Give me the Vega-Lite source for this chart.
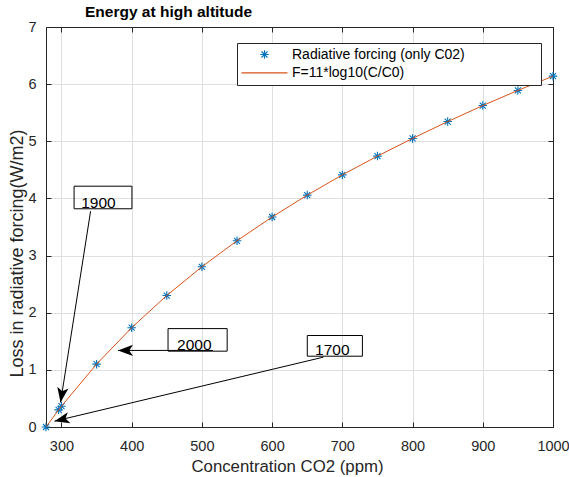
{
  "$schema": "https://vega.github.io/schema/vega-lite/v6.json",
  "width": 507,
  "height": 400,
  "autosize": {"type": "none"},
  "padding": {"left": 46, "top": 27, "right": 16, "bottom": 50},
  "background": "white",
  "config": {
    "font": "Liberation Sans",
    "view": {"stroke": null},
    "axis": {"labelFlush": false, "labelOverlap": false}
  },
  "title": {
    "text": "Energy at high altitude",
    "anchor": "start",
    "frame": "group",
    "dx": 39,
    "dy": -1.5,
    "offset": -2.5,
    "fontSize": 15.5,
    "fontWeight": "bold",
    "color": "#000000"
  },
  "datasets": {
    "forcing": [
      {"C": 278, "F": 0.0, "series": "Radiative forcing (only C02)"},
      {"C": 296, "F": 0.300, "series": "Radiative forcing (only C02)"},
      {"C": 300, "F": 0.364, "series": "Radiative forcing (only C02)"},
      {"C": 350, "F": 1.100, "series": "Radiative forcing (only C02)"},
      {"C": 400, "F": 1.738, "series": "Radiative forcing (only C02)"},
      {"C": 450, "F": 2.301, "series": "Radiative forcing (only C02)"},
      {"C": 500, "F": 2.804, "series": "Radiative forcing (only C02)"},
      {"C": 550, "F": 3.259, "series": "Radiative forcing (only C02)"},
      {"C": 600, "F": 3.675, "series": "Radiative forcing (only C02)"},
      {"C": 650, "F": 4.058, "series": "Radiative forcing (only C02)"},
      {"C": 700, "F": 4.412, "series": "Radiative forcing (only C02)"},
      {"C": 750, "F": 4.741, "series": "Radiative forcing (only C02)"},
      {"C": 800, "F": 5.050, "series": "Radiative forcing (only C02)"},
      {"C": 850, "F": 5.345, "series": "Radiative forcing (only C02)"},
      {"C": 900, "F": 5.625, "series": "Radiative forcing (only C02)"},
      {"C": 950, "F": 5.890, "series": "Radiative forcing (only C02)"},
      {"C": 1000, "F": 6.140, "series": "Radiative forcing (only C02)"},
      {"C": 278, "F": 0.0, "series": "F=11*log10(C/C0)"},
      {"C": 296, "F": 0.300, "series": "F=11*log10(C/C0)"},
      {"C": 300, "F": 0.364, "series": "F=11*log10(C/C0)"},
      {"C": 350, "F": 1.100, "series": "F=11*log10(C/C0)"},
      {"C": 400, "F": 1.738, "series": "F=11*log10(C/C0)"},
      {"C": 450, "F": 2.301, "series": "F=11*log10(C/C0)"},
      {"C": 500, "F": 2.804, "series": "F=11*log10(C/C0)"},
      {"C": 550, "F": 3.259, "series": "F=11*log10(C/C0)"},
      {"C": 600, "F": 3.675, "series": "F=11*log10(C/C0)"},
      {"C": 650, "F": 4.058, "series": "F=11*log10(C/C0)"},
      {"C": 700, "F": 4.412, "series": "F=11*log10(C/C0)"},
      {"C": 750, "F": 4.741, "series": "F=11*log10(C/C0)"},
      {"C": 800, "F": 5.050, "series": "F=11*log10(C/C0)"},
      {"C": 850, "F": 5.345, "series": "F=11*log10(C/C0)"},
      {"C": 900, "F": 5.625, "series": "F=11*log10(C/C0)"},
      {"C": 950, "F": 5.890, "series": "F=11*log10(C/C0)"},
      {"C": 1000, "F": 6.140, "series": "F=11*log10(C/C0)"}
    ],
    "notes": [
      {"year": "1900", "bx": 318.0, "bx2": 400.4, "by": 3.819, "by2": 4.214, "tx": 328.2, "ty": 3.841, "sx": 341.5, "sy": 3.777, "ex": 298.7, "ey": 0.429},
      {"year": "2000", "bx": 451.8, "bx2": 536.0, "by": 1.327, "by2": 1.722, "tx": 464.6, "ty": 1.339, "sx": 515.6, "sy": 1.34, "ex": 380.5, "ey": 1.34},
      {"year": "1700", "bx": 650.1, "bx2": 728.6, "by": 1.239, "by2": 1.601, "tx": 661.1, "ty": 1.257, "sx": 673.0, "sy": 1.222, "ex": 290.1, "ey": 0.102}
    ]
  },
  "layer": [
    {
      "data": {"name": "forcing"},
      "transform": [{"filter": "datum.series === 'Radiative forcing (only C02)'"}],
      "mark": {"type": "point", "filled": false, "size": 100, "strokeWidth": 1.1, "opacity": 1},
      "encoding": {
        "x": {"field": "C", "type": "quantitative",
          "scale": {"domain": [278, 1000], "nice": false, "zero": false},
          "axis": {"orient": "top", "values": [300, 400, 500, 600, 700, 800, 900, 1000], "labels": false, "grid": false, "title": null, "tickSize": -5, "tickColor": "#262626", "domainColor": "#262626", "tickWidth": 1, "domainWidth": 1}},
        "y": {"field": "F", "type": "quantitative",
          "scale": {"domain": [0, 7], "nice": false, "zero": false},
          "axis": {"orient": "right", "values": [0, 1, 2, 3, 4, 5, 6, 7], "labels": false, "grid": false, "title": null, "tickSize": -5, "tickColor": "#262626", "domainColor": "#262626", "tickWidth": 1, "domainWidth": 1}},
        "color": {"field": "series", "type": "nominal",
          "scale": {"domain": ["Radiative forcing (only C02)", "F=11*log10(C/C0)"], "range": ["#0072BD", "#D95319"]},
          "legend": {
            "title": "\u200b\u00a0\u00a0\u00a0\u00a0\u00a0\u00a0\u00a0\u00a0\u00a0\u00a0\u200b", "titleOrient": "right", "titlePadding": 32.8, "titleFontSize": 14, "titleOpacity": 0,
            "orient": "none", "legendX": 191, "legendY": 16,
            "fillColor": "white", "strokeColor": "#262626",
            "padding": 4.5, "rowPadding": 4.4, "symbolOffset": 16, "labelOffset": 20.5,
            "labelFontSize": 14, "labelColor": "#000000", "labelLimit": 500,
            "symbolSize": 100, "symbolStrokeWidth": 1.1
          }},
        "shape": {"field": "series", "type": "nominal",
          "scale": {"domain": ["Radiative forcing (only C02)", "F=11*log10(C/C0)"],
            "range": ["M-0.85,0L0.85,0M0,-0.85L0,0.85M-0.6,-0.6L0.6,0.6M-0.6,0.6L0.6,-0.6", "M-4.6,0L4.6,0"]},
          "legend": {
            "title": "\u200b\u00a0\u00a0\u00a0\u00a0\u00a0\u00a0\u00a0\u00a0\u00a0\u00a0\u200b", "titleOrient": "right", "titlePadding": 32.8, "titleFontSize": 14, "titleOpacity": 0,
            "orient": "none", "legendX": 191, "legendY": 16,
            "fillColor": "white", "strokeColor": "#262626",
            "padding": 4.5, "rowPadding": 4.4, "symbolOffset": 16, "labelOffset": 20.5,
            "labelFontSize": 14, "labelColor": "#000000", "labelLimit": 500,
            "symbolSize": 100, "symbolStrokeWidth": 1.1
          }}
      }
    },
    {
      "data": {"name": "forcing"},
      "transform": [{"filter": "datum.series === 'F=11*log10(C/C0)'"}],
      "mark": {"type": "line", "strokeWidth": 1},
      "encoding": {
        "x": {"field": "C", "type": "quantitative",
          "scale": {"domain": [278, 1000], "nice": false, "zero": false},
          "axis": {"orient": "bottom", "values": [300, 400, 500, 600, 700, 800, 900, 1000], "format": "d",
            "grid": true, "gridColor": "#dfdfdf", "gridWidth": 1,
            "tickSize": -5, "tickColor": "#262626", "tickWidth": 1, "domainColor": "#262626", "domainWidth": 1,
            "labelFontSize": 14.5, "labelColor": "#262626", "labelPadding": 28.5, "labelBaseline": "alphabetic",
            "title": "Concentration CO2 (ppm)", "titleFontSize": 16.8, "titleFontWeight": "normal", "titleColor": "#262626",
            "titleX": 241, "titleY": 44, "titleBaseline": "alphabetic", "titleAlign": "center"}},
        "y": {"field": "F", "type": "quantitative",
          "scale": {"domain": [0, 7], "nice": false, "zero": false},
          "axis": {"orient": "left", "values": [0, 1, 2, 3, 4, 5, 6, 7], "format": "d",
            "grid": true, "gridColor": "#dfdfdf", "gridWidth": 1,
            "tickSize": -5, "tickColor": "#262626", "tickWidth": 1, "domainColor": "#262626", "domainWidth": 1,
            "labelFontSize": 14.5, "labelColor": "#262626", "labelPadding": 15,
            "title": "Loss in radiative forcing(W/m2)", "titleFontSize": 18, "titleFontWeight": "normal", "titleColor": "#262626",
            "titleX": -24, "titleY": 226, "titleBaseline": "alphabetic", "titleAlign": "center", "titleAngle": 270}},
        "color": {"field": "series", "type": "nominal",
          "scale": {"domain": ["Radiative forcing (only C02)", "F=11*log10(C/C0)"], "range": ["#0072BD", "#D95319"]}}
      }
    },
    {
      "data": {"name": "notes"},
      "mark": {"type": "rect", "fillOpacity": 0, "stroke": "#000000", "strokeWidth": 1},
      "encoding": {
        "x": {"field": "bx", "type": "quantitative", "scale": {"domain": [278, 1000], "nice": false, "zero": false}, "axis": null},
        "x2": {"field": "bx2"},
        "y": {"field": "by", "type": "quantitative", "scale": {"domain": [0, 7], "nice": false, "zero": false}, "axis": null},
        "y2": {"field": "by2"}
      }
    },
    {
      "data": {"name": "notes"},
      "mark": {"type": "rule", "color": "#000000", "strokeWidth": 1},
      "encoding": {
        "x": {"field": "sx", "type": "quantitative", "scale": {"domain": [278, 1000], "nice": false, "zero": false}, "axis": null},
        "x2": {"field": "ex"},
        "y": {"field": "sy", "type": "quantitative", "scale": {"domain": [0, 7], "nice": false, "zero": false}, "axis": null},
        "y2": {"field": "ey"}
      }
    },
    {
      "data": {"name": "notes"},
      "transform": [{"filter": "datum.year === '1900'"}],
      "mark": {"type": "point", "filled": true, "color": "#000000", "opacity": 1, "size": 225, "angle": 98.9, "shape": "M0,0L-2,-0.75L-1.5,0L-2,0.75Z"},
      "encoding": {
        "x": {"field": "ex", "type": "quantitative", "scale": {"domain": [278, 1000], "nice": false, "zero": false}, "axis": null},
        "y": {"field": "ey", "type": "quantitative", "scale": {"domain": [0, 7], "nice": false, "zero": false}, "axis": null}
      }
    },
    {
      "data": {"name": "notes"},
      "transform": [{"filter": "datum.year === '2000'"}],
      "mark": {"type": "point", "filled": true, "color": "#000000", "opacity": 1, "size": 225, "angle": 180, "shape": "M0,0L-2,-0.75L-1.5,0L-2,0.75Z"},
      "encoding": {
        "x": {"field": "ex", "type": "quantitative", "scale": {"domain": [278, 1000], "nice": false, "zero": false}, "axis": null},
        "y": {"field": "ey", "type": "quantitative", "scale": {"domain": [0, 7], "nice": false, "zero": false}, "axis": null}
      }
    },
    {
      "data": {"name": "notes"},
      "transform": [{"filter": "datum.year === '1700'"}],
      "mark": {"type": "point", "filled": true, "color": "#000000", "opacity": 1, "size": 225, "angle": 166.6, "shape": "M0,0L-2,-0.75L-1.5,0L-2,0.75Z"},
      "encoding": {
        "x": {"field": "ex", "type": "quantitative", "scale": {"domain": [278, 1000], "nice": false, "zero": false}, "axis": null},
        "y": {"field": "ey", "type": "quantitative", "scale": {"domain": [0, 7], "nice": false, "zero": false}, "axis": null}
      }
    },
    {
      "data": {"name": "notes"},
      "mark": {"type": "text", "align": "left", "baseline": "alphabetic", "fontSize": 15.5, "color": "#000000"},
      "encoding": {
        "x": {"field": "tx", "type": "quantitative", "scale": {"domain": [278, 1000], "nice": false, "zero": false}, "axis": null},
        "y": {"field": "ty", "type": "quantitative", "scale": {"domain": [0, 7], "nice": false, "zero": false}, "axis": null},
        "text": {"field": "year", "type": "nominal"}
      }
    }
  ],
  "resolve": {"axis": {"x": "independent", "y": "independent"}}
}
